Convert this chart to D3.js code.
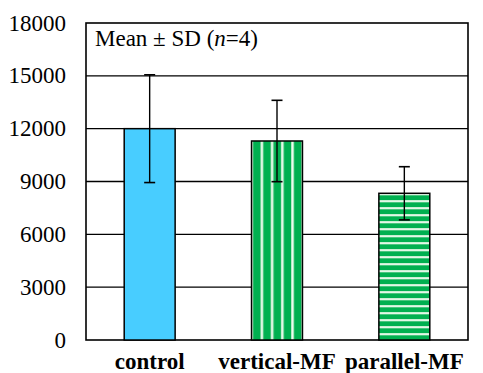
<!DOCTYPE html>
<html>
<head>
<meta charset="utf-8">
<script src="https://cdn.jsdelivr.net/npm/d3@7"></script>
</head>
<body style="margin:0">
<svg width="483" height="373"></svg>
<script>
var categories = ["control", "vertical-MF", "parallel-MF"],
    means = [12000, 11300, 8330],
    sds = [3060, 2310, 1510],
    fills = ["solid", "vstripe", "hstripe"],
    yTicks = [0, 3000, 6000, 9000, 12000, 15000, 18000];

var svg = d3.select("svg"),
    margin = {top: 23, right: 15, bottom: 33, left: 86},
    width = +svg.attr("width") - margin.left - margin.right,
    height = +svg.attr("height") - margin.top - margin.bottom,
    g = svg.append("g").attr("transform", "translate(" + margin.left + "," + margin.top + ")");

var x = d3.scaleBand().domain(categories).range([0, width]).paddingInner(0.6).paddingOuter(0.3),
    y = d3.scaleLinear().domain([0, 18000]).range([height, 0]);

// stripe patterns
var defs = svg.append("defs");
var pv = defs.append("pattern")
    .attr("id", "vstripe")
    .attr("patternUnits", "userSpaceOnUse")
    .attr("width", 10.2).attr("height", 10)
    .attr("x", margin.left + x("vertical-MF") + 4.5);
pv.append("rect").attr("width", 10.2).attr("height", 10).attr("fill", "#00b050");
pv.append("rect").attr("x", 0).attr("width", 3).attr("height", 10).attr("fill", "#b5e8c4");
pv.append("rect").attr("x", 1).attr("width", 1).attr("height", 10).attr("fill", "#f4fff7");

var ph = defs.append("pattern")
    .attr("id", "hstripe")
    .attr("patternUnits", "userSpaceOnUse")
    .attr("width", 10).attr("height", 7)
    .attr("y", 2);
ph.append("rect").attr("width", 10).attr("height", 7).attr("fill", "#00b050");
ph.append("rect").attr("y", 0).attr("width", 10).attr("height", 2.4).attr("fill", "#b5e8c4");
ph.append("rect").attr("y", 0.7).attr("width", 10).attr("height", 1).attr("fill", "#f4fff7");

// grid lines
g.selectAll(".grid")
    .data(yTicks.filter(function(d) { return d > 0 && d < 18000; }))
  .enter().append("line")
    .attr("class", "grid")
    .attr("x1", 0).attr("x2", width)
    .attr("y1", function(d) { return y(d); })
    .attr("y2", function(d) { return y(d); })
    .attr("stroke", "#000")
    .attr("stroke-width", 1.4);

// frame
g.append("rect")
    .attr("width", width).attr("height", height)
    .attr("fill", "none")
    .attr("stroke", "#000")
    .attr("stroke-width", 1.6);

// y axis labels
g.selectAll(".ylab")
    .data(yTicks)
  .enter().append("text")
    .attr("class", "ylab")
    .attr("x", -20)
    .attr("y", function(d) { return y(d); })
    .attr("dy", "0.33em")
    .attr("text-anchor", "end")
    .style("font-family", "'Liberation Serif'")
    .style("font-size", "23px")
    .text(function(d) { return d; });

// bars
g.selectAll(".bar")
    .data(categories)
  .enter().append("rect")
    .attr("class", "bar")
    .attr("x", function(d) { return x(d); })
    .attr("width", x.bandwidth())
    .attr("y", function(d, i) { return y(means[i]); })
    .attr("height", function(d, i) { return height - y(means[i]); })
    .attr("fill", function(d, i) { return fills[i] === "solid" ? "#48cdff" : "url(#" + fills[i] + ")"; })
    .attr("stroke", "#000")
    .attr("stroke-width", 1.5);

// error bars
var err = g.selectAll(".err")
    .data(categories)
  .enter().append("g")
    .attr("class", "err")
    .attr("transform", function(d) { return "translate(" + (x(d) + x.bandwidth() / 2) + ",0)"; });

err.append("line")
    .attr("y1", function(d, i) { return y(means[i] + sds[i]); })
    .attr("y2", function(d, i) { return y(means[i] - sds[i]); })
    .attr("stroke", "#000").attr("stroke-width", 1.4);

err.selectAll(".cap")
    .data(function(d, i) { return [means[i] + sds[i], means[i] - sds[i]]; })
  .enter().append("line")
    .attr("x1", -5.5).attr("x2", 5.5)
    .attr("y1", function(d) { return y(d); })
    .attr("y2", function(d) { return y(d); })
    .attr("stroke", "#000").attr("stroke-width", 1.6);

// x labels
g.selectAll(".xlab")
    .data(categories)
  .enter().append("text")
    .attr("class", "xlab")
    .attr("x", function(d) { return x(d) + x.bandwidth() / 2; })
    .attr("y", height + 29)
    .attr("text-anchor", "middle")
    .style("font-family", "'Liberation Serif'")
    .style("font-size", "23px")
    .style("font-weight", "bold")
    .text(function(d) { return d; });

// legend text
var leg = g.append("text")
    .attr("x", 9)
    .attr("y", 23)
    .style("font-family", "'Liberation Serif'")
    .style("font-size", "23px");
leg.append("tspan").text("Mean \u00b1 SD (");
leg.append("tspan").style("font-style", "italic").text("n");
leg.append("tspan").text("=4)");
</script>
</body>
</html>
